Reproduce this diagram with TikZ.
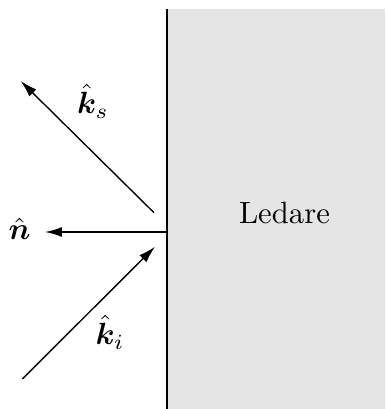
\documentclass[tikz,border=0pt]{standalone}
\usepackage{amsmath,bm}
\usetikzlibrary{arrows.meta}
\begin{document}
\begin{tikzpicture}[x=0.3257pt,y=-0.3257pt,
  vec/.style={line width=0.45pt,-{Latex[length=5.5pt,width=3.2pt]}},
  lbl/.style={inner sep=0pt}]
\useasboundingbox (0,0) rectangle (385,409);
\fill[gray!20] (166.7,9) rectangle (385,409);
\draw[line width=0.65pt] (166.7,9) -- (166.7,409);
\node[lbl] (led) at (284.5,213) {Ledare};
\coordinate (s0) at (154,212.7);
\coordinate (s1) at (20.7,81);
\coordinate (n0) at (166.7,232);
\coordinate (n1) at (45,232);
\coordinate (i0) at (22.3,379);
\coordinate (i1) at (155,246.7);
\draw[vec] (s0) -- (s1);
\draw[vec] (n0) -- (n1);
\draw[vec] (i0) -- (i1);
\node[lbl] (ks) at (93,101) {$\hat{\bm{k}}_s$};
\node[lbl] (nn) at (19.5,229) {$\hat{\bm{n}}$};
\node[lbl] (ki) at (110,332) {$\hat{\bm{k}}_i$};
\end{tikzpicture}
\end{document}
